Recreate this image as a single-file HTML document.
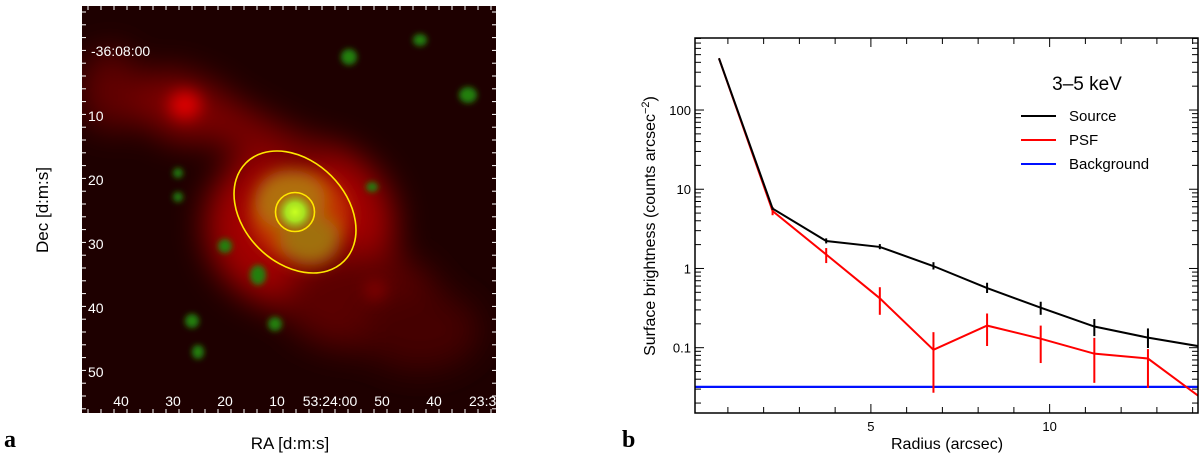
<!DOCTYPE html>
<html><head><meta charset="utf-8"><style>
html,body{margin:0;padding:0;background:#fff;width:1200px;height:459px;overflow:hidden}
svg{display:block}
text{font-family:"Liberation Sans",sans-serif}
</style></head><body>
<svg id="fig" width="1200" height="459" viewBox="0 0 1200 459">
<defs>
<filter id="b8" x="-50%" y="-50%" width="200%" height="200%"><feGaussianBlur stdDeviation="8"/></filter>
<filter id="b4" x="-50%" y="-50%" width="200%" height="200%"><feGaussianBlur stdDeviation="3"/></filter>
<filter id="b15" x="-50%" y="-50%" width="200%" height="200%"><feGaussianBlur stdDeviation="16"/></filter>
<clipPath id="imgclip"><rect x="82" y="6" width="414" height="407"/></clipPath>
<clipPath id="plotclip"><rect x="695" y="38" width="503" height="375"/></clipPath>
<radialGradient id="core"><stop offset="0" stop-color="#c8ff20"/><stop offset="0.5" stop-color="#a8e020"/><stop offset="1" stop-color="#90c020" stop-opacity="0"/></radialGradient>
</defs>

<g clip-path="url(#imgclip)">
<rect x="82" y="6" width="414" height="407" fill="#1e0000"/>
<g filter="url(#b15)">
<ellipse cx="300" cy="225" rx="95" ry="85" fill="#a00000"/>
<ellipse cx="190" cy="110" rx="40" ry="30" fill="#b00000"/>
<polygon points="110,80 180,70 270,120 330,150 320,200 260,160 180,130 110,120" fill="#7a0000"/>
<ellipse cx="360" cy="300" rx="80" ry="50" fill="#5a0000"/>
<ellipse cx="420" cy="330" rx="60" ry="40" fill="#450000"/>
<ellipse cx="110" cy="90" rx="30" ry="40" fill="#600000"/>
</g>
<g filter="url(#b8)">
<ellipse cx="300" cy="215" rx="50" ry="45" fill="#c03000"/>
<ellipse cx="290" cy="200" rx="35" ry="30" fill="#b07010"/>
<ellipse cx="310" cy="240" rx="30" ry="25" fill="#a07010"/>
<ellipse cx="185" cy="105" rx="16" ry="14" fill="#e00000"/>
<ellipse cx="375" cy="290" rx="10" ry="8" fill="#900000"/>
</g>
<g filter="url(#b4)" fill="#208010">
<ellipse cx="349" cy="57" rx="8" ry="8"/>
<ellipse cx="468" cy="95" rx="9" ry="8"/>
<ellipse cx="420" cy="40" rx="7" ry="6"/>
<ellipse cx="178" cy="173" rx="5" ry="5"/>
<ellipse cx="178" cy="197" rx="5" ry="5"/>
<ellipse cx="225" cy="246" rx="7" ry="7"/>
<ellipse cx="192" cy="321" rx="7" ry="7"/>
<ellipse cx="275" cy="324" rx="7" ry="7"/>
<ellipse cx="198" cy="352" rx="6" ry="7"/>
<ellipse cx="372" cy="187" rx="6" ry="5"/>
<ellipse cx="258" cy="275" rx="8" ry="10"/>
</g>
<circle cx="295" cy="212" r="18" fill="url(#core)"/>
<ellipse cx="295" cy="212" rx="69.4" ry="51.2" transform="rotate(45 295 212)" fill="none" stroke="#ffe800" stroke-width="1.6"/>
<circle cx="295" cy="212" r="19.5" fill="none" stroke="#ffe800" stroke-width="1.6"/>
</g>
<g id="imgticks" stroke="#fff" stroke-width="1"></g>
<g fill="#fff" font-size="14">
<text x="91" y="56">-36:08:00</text>
<text x="88" y="121">10</text><text x="88" y="185">20</text><text x="88" y="249">30</text>
<text x="88" y="313">40</text><text x="88" y="377">50</text>
<g text-anchor="middle">
<text x="121" y="406">40</text><text x="173" y="406">30</text><text x="225" y="406">20</text>
<text x="277" y="406">10</text><text x="330" y="406">53:24:00</text><text x="382" y="406">50</text>
<text x="434" y="406">40</text></g>
<text x="469" y="406">23:3</text>
</g>
<text x="48" y="210" font-size="17" text-anchor="middle" transform="rotate(-90 48 210)">Dec [d:m:s]</text>
<text x="290" y="449" font-size="17" text-anchor="middle">RA [d:m:s]</text>
<text x="4" y="447" font-size="24" font-weight="bold" style="font-family:'Liberation Serif',serif">a</text>

<g id="chart"></g>
<text x="622" y="447" font-size="24" font-weight="bold" style="font-family:'Liberation Serif',serif">b</text>
</svg>
<script>
const radius=[0.75,2.25,3.75,5.25,6.75,8.25,9.75,11.25,12.75,14.25];
const sourceVals=[450,5.7,2.22,1.87,1.07,0.565,0.32,0.185,0.134,0.103];
const sourceHi=[450,5.9,2.4,2.03,1.2,0.66,0.38,0.23,0.175,0.108];
const sourceLo=[450,5.5,2.07,1.75,0.97,0.49,0.26,0.14,0.099,0.098];
const psfVals=[450,5.3,1.5,0.42,0.094,0.19,0.13,0.084,0.073,0.023];
const psfHi=[450,5.95,1.81,0.58,0.157,0.27,0.19,0.133,0.096,0.023];
const psfLo=[450,4.7,1.17,0.26,0.027,0.105,0.064,0.036,0.031,0.023];
const backgroundLevel=[0.032];
const xTicks=[5,10];
const yTicks=[0.1,1,10,100];
const yTickLabels=["0.1","1","10","100"];
const legendNames=["Source","PSF","Background"];

const NS="http://www.w3.org/2000/svg";
function mk(tag,attrs,parent){const e=document.createElementNS(NS,tag);for(const k in attrs)e.setAttribute(k,attrs[k]);parent.appendChild(e);return e;}
const L=695,R=1198,T=38,B=413;
const X0=0.08,X1=14.15;
const sx=v=>L+(v-X0)/(X1-X0)*(R-L);
const yTopLog=2+(110-38)/79.2, yBotLog=-1-(413-347.7)/79.2;
const sy=v=>T+(yTopLog-Math.log10(v))/(yTopLog-yBotLog)*(B-T);
const g=document.getElementById('chart');

const tk=mk('g',{stroke:'#000','stroke-width':1},g);


for(let v=1;v<=14;v++){const x=sx(v);const len=(v%5==0)?9:6;
 mk('line',{x1:x,y1:B,x2:x,y2:B-len},tk);mk('line',{x1:x,y1:T,x2:x,y2:T+len},tk);}
for(let d=-2;d<=2;d++){for(let m=1;m<=9;m++){const v=m*Math.pow(10,d);const lv=Math.log10(v);
 if(lv<yBotLog||lv>yTopLog)continue;const y=sy(v);const len=m==1?9:6;
 mk('line',{x1:L,y1:y,x2:L+len,y2:y},tk);mk('line',{x1:R,y1:y,x2:R-len,y2:y},tk);}}
xTicks.forEach(v=>{const t=mk('text',{x:sx(v),y:B+18,'font-size':13,'text-anchor':'middle'},g);t.textContent=v;
 
 });
yTicks.forEach((v,i)=>{const t=mk('text',{x:L-4,y:sy(v)+5,'font-size':13,'text-anchor':'end'},g);t.textContent=yTickLabels[i];
 
 });

const pg=mk('g',{'clip-path':'url(#plotclip)'},g);
const bl=mk('line',{x1:L,x2:R,y1:sy(backgroundLevel[0]),y2:sy(backgroundLevel[0]),stroke:'#0010ff','stroke-width':2.2},pg);


function series(vals,lo,hi,color,name){
 const p=mk('polyline',{points:radius.map((r,i)=>sx(r)+','+sy(vals[i])).join(' '),fill:'none',stroke:color,'stroke-width':2},pg);
 
 
 radius.forEach((r,i)=>{if(i==0)return;const e=mk('line',{x1:sx(r),x2:sx(r),y1:sy(hi[i]),y2:sy(lo[i]),stroke:color,'stroke-width':2},pg);
  
  });
}
series(psfVals,psfLo,psfHi,'#ff0000','psf');
series(sourceVals,sourceLo,sourceHi,'#000000','source');
const fr=mk('rect',{x:L,y:T,width:R-L,height:B-T,fill:'none',stroke:'#000','stroke-width':1.5},g);


const xt=mk('text',{x:947,y:449,'font-size':16,'text-anchor':'middle'},g);xt.textContent='Radius (arcsec)';


const yt=mk('text',{x:655,y:226,'font-size':16,'text-anchor':'middle',transform:'rotate(-90 655 226)'},g);
yt.innerHTML='Surface brightness (counts arcsec<tspan dy="-6" font-size="11">−2</tspan><tspan dy="6">)</tspan>';


const lg=mk('g',{},g);


const lt=mk('text',{x:1087,y:90,'font-size':19,'text-anchor':'middle'},lg);lt.textContent='3–5 keV';


const cols=['#000','#ff0000','#0010ff'];
legendNames.forEach((n,i)=>{const y=116+i*24;
 const le=mk('g',{},lg);
 
 
 mk('line',{x1:1021,x2:1056,y1:y,y2:y,stroke:cols[i],'stroke-width':2},le);
 const t=mk('text',{x:1069,y:y+5,'font-size':15},le);t.textContent=n;});

const it=document.getElementById('imgticks');


for(let y=12;y<413;y+=12.8){mk('line',{x1:82,x2:86,y1:y,y2:y},it);mk('line',{x1:496,x2:492,y1:y,y2:y},it);}
for(let x=88;x<496;x+=13){mk('line',{x1:x,x2:x,y1:6,y2:10},it);mk('line',{x1:x,x2:x,y1:413,y2:409},it);}
</script>
</body></html>
